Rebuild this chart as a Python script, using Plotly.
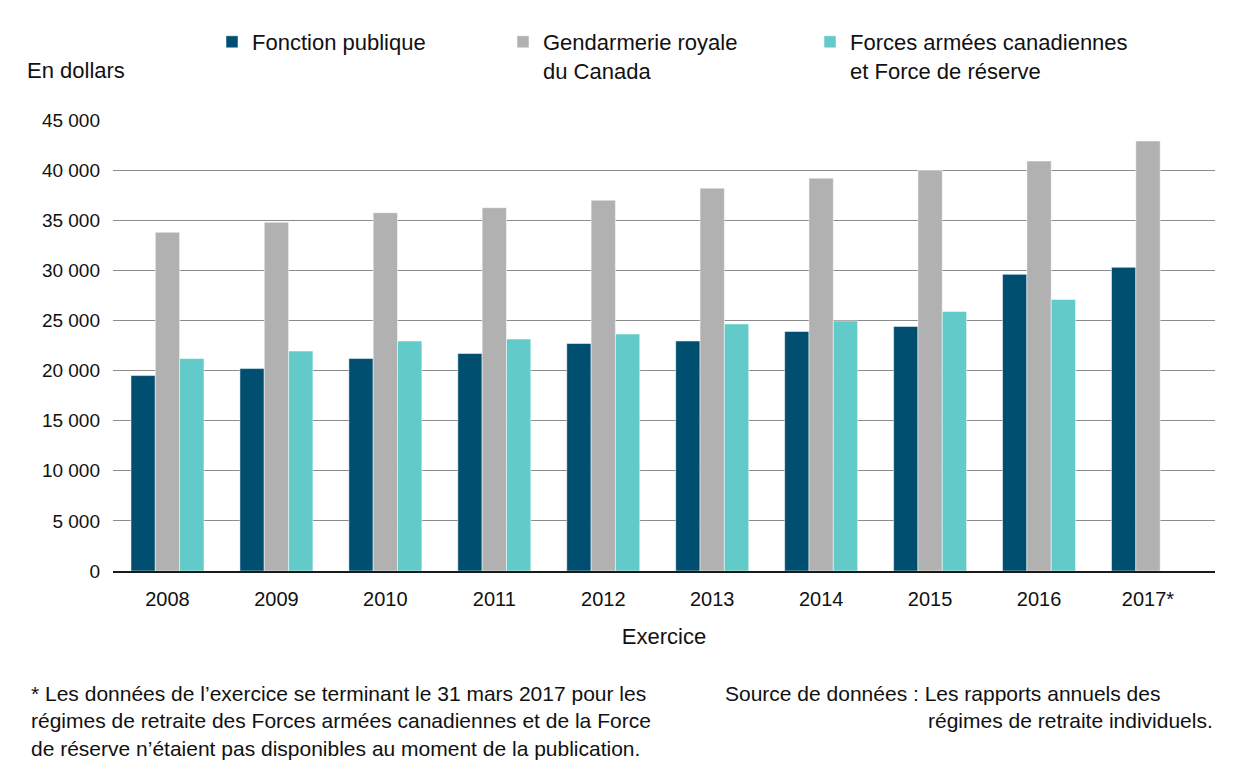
import plotly.graph_objects as go

years = ["2008", "2009", "2010", "2011", "2012", "2013", "2014", "2015", "2016", "2017*"]
fonction_publique = [19500, 20200, 21200, 21700, 22700, 22950, 23900, 24400, 29600, 30300]
grc = [33800, 34800, 35750, 36250, 37000, 38200, 39200, 40000, 40900, 42900]
forces_armees = [21200, 21950, 22950, 23150, 23650, 24650, 24950, 25900, 27100, None]

tick_vals = [0, 5000, 10000, 15000, 20000, 25000, 30000, 35000, 40000, 45000]
tick_text = ["0", "5 000", "10 000", "15 000", "20 000", "25 000", "30 000", "35 000", "40 000", "45 000"]

series_names = ["Fonction publique", "Gendarmerie royale<br>du Canada", "Forces armées canadiennes<br>et Force de réserve"]
colors = ["#004f71", "#b1b1b1", "#62cbc9"]
legend_ids = ["legend", "legend2", "legend3"]

font_family = "Liberation Sans, Arial, Helvetica, sans-serif"
text_color = "#111111"

# page body has an 8px default margin; screen targets are offset by it
OFF = 8
W, H = 1240, 778
ML, MR, MT, MB = 113 - OFF, 25 + OFF, 120 - OFF, 207 + OFF
PW = W - ML - MR
PH = H - MT - MB

def px_x(p):
    return (p - OFF - ML) / PW

def px_y(p):
    return (H - MB - (p - OFF)) / PH

fig = go.Figure()
for name, vals, col, lg in zip(series_names, [fonction_publique, grc, forces_armees], colors, legend_ids):
    fig.add_trace(go.Bar(
        x=years, y=vals, name=name, legend=lg,
        marker=dict(color=col, line=dict(color="rgba(255,255,255,0.5)", width=1)),
    ))

legend_text_x = [252, 543, 850]
legend_common = dict(
    xanchor="left", yanchor="top", y=px_y(21),
    font=dict(size=22, color=text_color), valign="top",
    itemclick=False, bgcolor="rgba(0,0,0,0)", borderwidth=0,
)
legends = {}
for lg, tx in zip(legend_ids, legend_text_x):
    legends[lg] = dict(x=px_x(tx - 40), **legend_common)

fig.update_layout(
    width=W, height=H,
    paper_bgcolor="white", plot_bgcolor="white",
    margin=dict(l=ML, r=MR, t=MT, b=MB, autoexpand=False),
    barmode="group", bargap=0.33, bargroupgap=0,
    font=dict(family=font_family, color=text_color, size=19),
    showlegend=True,
    xaxis=dict(
        range=[-0.5, 9.615], automargin=False,
        showgrid=False, showline=True, linecolor="#1a1a1a", linewidth=2,
        ticks="", tickfont=dict(size=20, color=text_color), ticklabelstandoff=9,
        title=dict(text="Exercice", font=dict(size=22, color=text_color), standoff=20),
        fixedrange=True,
    ),
    yaxis=dict(
        range=[0, 45000], automargin=False,
        tickvals=tick_vals, ticktext=tick_text,
        showgrid=True, gridcolor="#8c8c8c", gridwidth=1,
        zeroline=False, showline=False, ticks="",
        tickfont=dict(size=19, color=text_color), ticklabelstandoff=12,
        fixedrange=True,
    ),
    **legends,
)

fig.add_annotation(text="En dollars", xref="paper", yref="paper", x=px_x(25), y=px_y(70),
                   xanchor="left", yanchor="middle", showarrow=False,
                   font=dict(size=22, color=text_color))

fig.add_annotation(
    text="* Les données de l’exercice se terminant le 31 mars 2017 pour les<br>"
         "régimes de retraite des Forces armées canadiennes et de la Force<br>"
         "de réserve n’étaient pas disponibles au moment de la publication.",
    xref="paper", yref="paper", x=px_x(29), y=px_y(680), xanchor="left", yanchor="top",
    align="left", showarrow=False, font=dict(size=21, color=text_color))

fig.add_annotation(
    text="Source de données : Les rapports annuels des",
    xref="paper", yref="paper", x=px_x(723), y=px_y(680), xanchor="left", yanchor="top",
    align="left", showarrow=False, font=dict(size=21, color=text_color))

fig.add_annotation(
    text="régimes de retraite individuels.",
    xref="paper", yref="paper", x=px_x(1215), y=px_y(707), xanchor="right", yanchor="top",
    align="right", showarrow=False, font=dict(size=21, color=text_color))

fig.write_html("out.html")
